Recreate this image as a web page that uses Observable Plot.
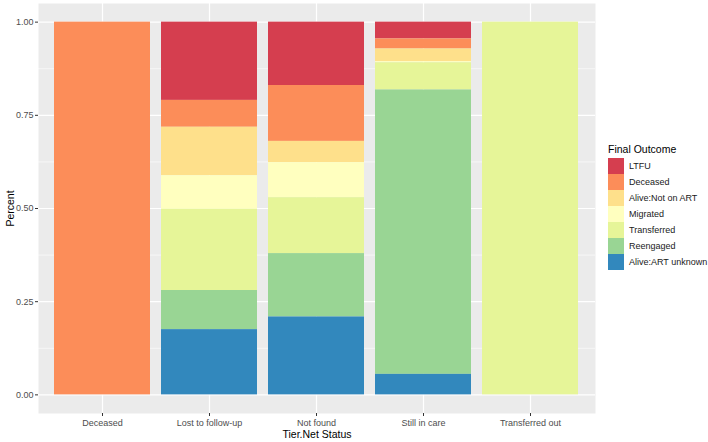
<!DOCTYPE html>
<html>
<head>
<meta charset="utf-8">
<script src="https://cdn.jsdelivr.net/npm/d3@7"></script>
<script src="https://cdn.jsdelivr.net/npm/@observablehq/plot@0.6"></script>
<style>
  html, body { margin: 0; padding: 0; background: #fff; }
  #wrap { position: relative; width: 708px; height: 442px; font-family: "Liberation Sans", Arial, sans-serif; }
  #legend { position: absolute; left: 608px; top: 143px; font-size: 9px; color: #1a1a1a; }
  #legend .title { font-size: 10.5px; margin-bottom: 3px; color: #000; }
  #legend .row { display: flex; align-items: center; height: 16px; }
  #legend .key { width: 16px; height: 16px; margin-right: 5px; }
</style>
</head>
<body>
<div id="wrap"></div>
<script>
const categories = ["Deceased", "Lost to follow-up", "Not found", "Still in care", "Transferred out"];
const outcomes = ["LTFU", "Deceased", "Alive:Not on ART", "Migrated", "Transferred", "Reengaged", "Alive:ART unknown"];
const colors = ["#D53E4F", "#FC8D59", "#FEE08B", "#FFFFBF", "#E6F598", "#99D594", "#3288BD"];
const ltfu        = [0,    0.210, 0.170, 0.045, 0];
const deceased    = [1,    0.072, 0.150, 0.027, 0];
const notOnArt    = [0,    0.130, 0.057, 0.034, 0];
const migrated    = [0,    0.090, 0.094, 0.003, 0];
const transferred = [0,    0.218, 0.150, 0.073, 1];
const reengaged   = [0,    0.105, 0.170, 0.763, 0];
const artUnknown  = [0,    0.175, 0.209, 0.055, 0];
const yTicks = [0, 0.25, 0.5, 0.75, 1];
const yMinor = [0.125, 0.375, 0.625, 0.875];

const series = [ltfu, deceased, notOnArt, migrated, transferred, reengaged, artUnknown];
const data = [];
outcomes.forEach((o, i) => categories.forEach((c, j) => {
  data.push({status: c, outcome: o, value: series[i][j]});
}));
const stackOrder = outcomes.slice().reverse();

const chart = Plot.plot({
  width: 708,
  height: 442,
  marginTop: 3,
  marginBottom: 29,
  marginLeft: 38,
  marginRight: 113,
  style: {fontFamily: '"Liberation Sans", Arial, sans-serif', fontSize: "9px", background: "white"},
  x: {domain: categories, paddingInner: 0.1, paddingOuter: 0.15},
  y: {domain: [-0.05, 1.05]},
  color: {domain: outcomes, range: colors, type: "ordinal"},
  marks: [
    Plot.frame({fill: "#EBEBEB", stroke: null}),
    Plot.gridY({ticks: yMinor, stroke: "white", strokeOpacity: 1, strokeWidth: 0.6}),
    Plot.gridY({ticks: yTicks, stroke: "white", strokeOpacity: 1, strokeWidth: 1.2}),
    Plot.gridX({stroke: "white", strokeOpacity: 1, strokeWidth: 1.2}),
    Plot.barY(data, {x: "status", y: "value", fill: "outcome", order: stackOrder}),
    Plot.axisY({ticks: yTicks, tickFormat: d => d.toFixed(2), tickSize: 3, tickPadding: 2,
      stroke: "#333", color: "#4D4D4D", label: "Percent", labelAnchor: "center", labelArrow: "none", labelOffset: 32}),
    Plot.axisX({tickSize: 3, tickPadding: 3, stroke: "#333", color: "#4D4D4D",
      label: "Tier.Net Status", labelAnchor: "center", labelArrow: "none", labelOffset: 24})
  ]
});
chart.querySelectorAll('[aria-label="y-axis label"], [aria-label="x-axis label"]').forEach(g => {
  g.setAttribute("fill", "#000"); g.style.fontSize = "10.5px";
});
document.getElementById("wrap").appendChild(chart);

const legend = document.createElement("div");
legend.id = "legend";
legend.innerHTML = '<div class="title">Final Outcome</div>' +
  outcomes.map((o, i) => `<div class="row"><div class="key" style="background:${colors[i]}"></div><span>${o}</span></div>`).join("");
document.getElementById("wrap").appendChild(legend);
</script>
</body>
</html>
